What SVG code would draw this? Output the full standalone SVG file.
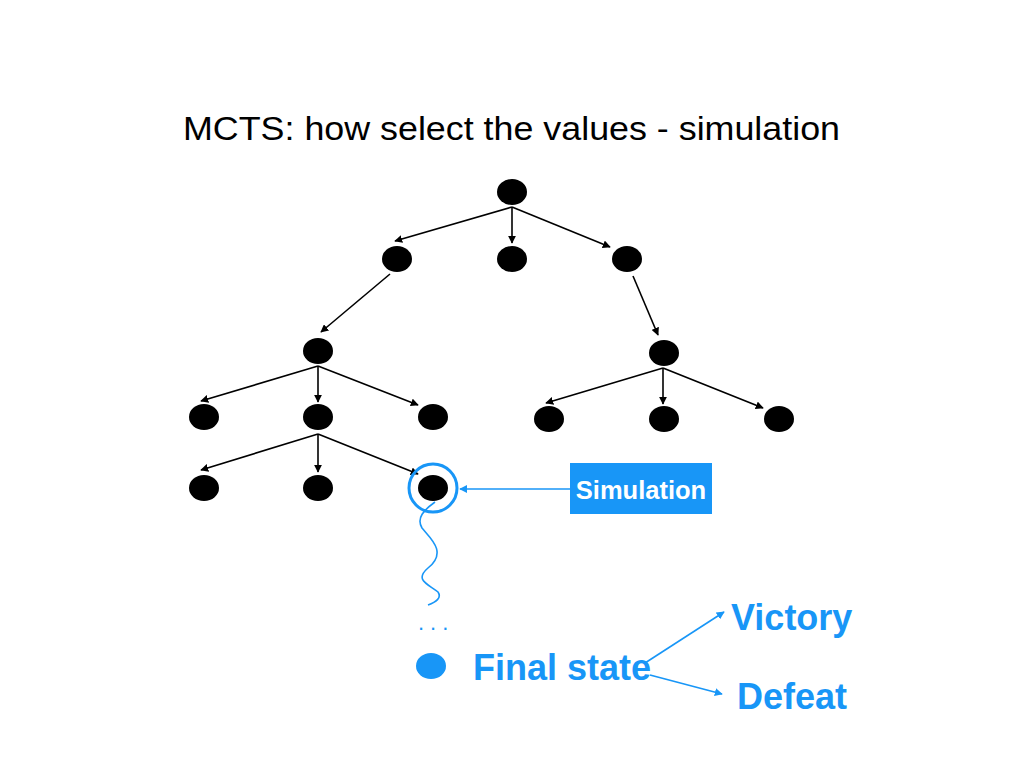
<svg xmlns="http://www.w3.org/2000/svg" width="1024" height="768" viewBox="0 0 1024 768">
<defs>
<style>
.n{fill:#000}
.e{stroke:#000;stroke-width:1.6;fill:none;marker-end:url(#ab)}
.b{stroke:#1896f7;stroke-width:1.6;fill:none}
.lbl{font-family:"Liberation Sans",Arial,sans-serif;font-weight:bold;fill:#1896f7}
</style>
<marker id="ab" viewBox="0 0 10 10" refX="9" refY="5" markerWidth="8" markerHeight="8" markerUnits="userSpaceOnUse" orient="auto"><path d="M0,0 L10,5 L0,10 Z" fill="#000"/></marker>
<marker id="abl" viewBox="0 0 10 10" refX="9" refY="5" markerWidth="8" markerHeight="8" markerUnits="userSpaceOnUse" orient="auto"><path d="M0,0 L10,5 L0,10 Z" fill="#1896f7"/></marker>
</defs>
<rect width="1024" height="768" fill="#fff"/>
<text x="183" y="140" textLength="657" lengthAdjust="spacingAndGlyphs" font-family="Liberation Sans,Arial,sans-serif" font-size="33" fill="#000">MCTS: how select the values - simulation</text>
<g id="connectors">
<path class="e" d="M512,207 L395,241"/>
<path class="e" d="M512,207 L512,243"/>
<path class="e" d="M512,207 L610,247"/>
<path class="e" d="M390,274 L321,332"/>
<path class="e" d="M633,276 L658,335"/>
<path class="e" d="M318,366 L201,401"/>
<path class="e" d="M318,366 L318,402"/>
<path class="e" d="M318,366 L418,405"/>
<path class="e" d="M318,434 L201,470"/>
<path class="e" d="M318,434 L318,472"/>
<path class="e" d="M318,434 L418,474"/>
<path class="e" d="M663,368 L546,403"/>
<path class="e" d="M663,368 L663,404"/>
<path class="e" d="M663,368 L763,408"/>
<path class="b" d="M570,489 L460,489" marker-end="url(#abl)"/>
<path class="b" d="M645,663 L724,612" marker-end="url(#abl)"/>
<path class="b" d="M650,675 L722,694" marker-end="url(#abl)"/>
<path class="b" d="M435,502 C424,510 416,518 422,528 C430,538 448,552 428,568 C414,580 428,584 438,592 C442,598 436,602 428,605"/>
</g>
<g id="n0"><ellipse class="n" cx="512" cy="192" rx="15" ry="13"/></g>
<g id="n1"><ellipse class="n" cx="397" cy="259" rx="15" ry="13"/></g>
<g id="n2"><ellipse class="n" cx="512" cy="259" rx="15" ry="13"/></g>
<g id="n3"><ellipse class="n" cx="627" cy="259" rx="15" ry="13"/></g>
<g id="n4"><ellipse class="n" cx="318" cy="351" rx="15" ry="13"/></g>
<g id="n5"><ellipse class="n" cx="664" cy="353" rx="15" ry="13"/></g>
<g id="n6"><ellipse class="n" cx="204" cy="417" rx="15" ry="13"/></g>
<g id="n7"><ellipse class="n" cx="318" cy="417" rx="15" ry="13"/></g>
<g id="n8"><ellipse class="n" cx="433" cy="417" rx="15" ry="13"/></g>
<g id="n9"><ellipse class="n" cx="549" cy="419" rx="15" ry="13"/></g>
<g id="n10"><ellipse class="n" cx="664" cy="419" rx="15" ry="13"/></g>
<g id="n11"><ellipse class="n" cx="779" cy="419" rx="15" ry="13"/></g>
<g id="n12"><ellipse class="n" cx="204" cy="488" rx="15" ry="13"/></g>
<g id="n13"><ellipse class="n" cx="318" cy="488" rx="15" ry="13"/></g>
<g id="n14"><ellipse class="n" cx="433" cy="488" rx="15" ry="13"/><circle cx="433" cy="488" r="24" fill="none" stroke="#1896f7" stroke-width="3"/></g>
<g id="sim"><rect x="570" y="463" width="142" height="51" fill="#1896f7"/><text x="641" y="499" text-anchor="middle" font-family="Liberation Sans,Arial,sans-serif" font-weight="bold" font-size="25.5" fill="#fff">Simulation</text></g>
<g id="dots"><text x="418" y="630" font-family="Liberation Sans,Arial,sans-serif" font-size="22" fill="#1896f7" letter-spacing="6">...</text></g>
<g id="final"><ellipse cx="431" cy="666" rx="15" ry="13" fill="#1896f7"/><text class="lbl" x="473" y="680" font-size="36">Final state</text></g>
<g id="victory"><text class="lbl" x="731" y="630" font-size="36">Victory</text></g>
<g id="defeat"><text class="lbl" x="737" y="709" font-size="36">Defeat</text></g>
</svg>
